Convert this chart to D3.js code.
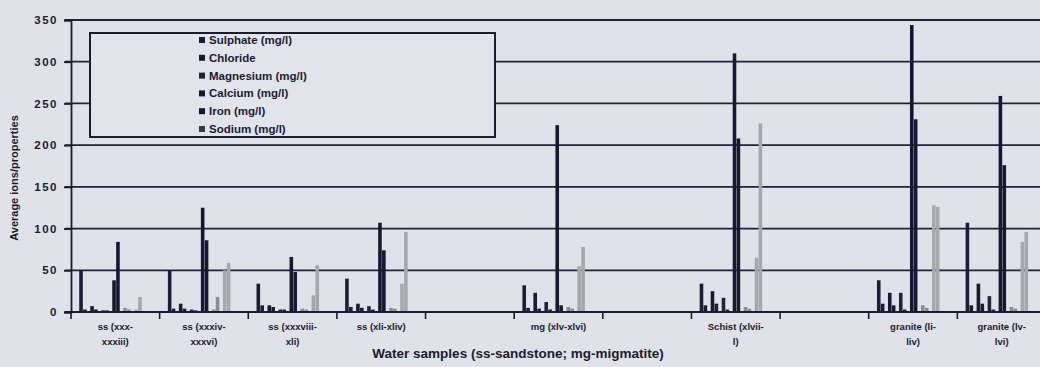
<!DOCTYPE html>
<html>
<head>
<meta charset="utf-8">
<script src="https://cdn.jsdelivr.net/npm/d3@7/dist/d3.min.js"></script>
<style>
  html, body { margin: 0; padding: 0; background: #dfe2e9; }
  svg { display: block; }
  text { font-family: "Liberation Sans", Arial, sans-serif; font-weight: bold; fill: #1c1b30; }
</style>
</head>
<body>
<div id="chart"></div>
<script>
const categories = [
  'ss (xxx-\nxxxiii)', 'ss (xxxiv-\nxxxvi)', 'ss (xxxviii-\nxli)', 'ss (xli-xliv)', '',
  'mg (xlv-xlvi)', '', 'Schist (xlvii-\nl)', '', 'granite (li-\nliv)', 'granite (lv-\nlvi)'
];
const ions = ['Sulphate (mg/l)', 'Chloride', 'Magnesium (mg/l)', 'Calcium (mg/l)', 'Iron (mg/l)', 'Sodium (mg/l)'];
const yTicks = [0, 50, 100, 150, 200, 250, 300, 350];

// two readings per ion in each sample group
const sulphate  = [[50, 3], [50, 4], [34, 8], [40, 6], [0, 0], [32, 5], [0, 0], [34, 8], [0, 0], [38, 10], [107, 8]];
const chloride  = [[7, 3], [10, 4], [8, 6], [10, 5], [0, 0], [23, 4], [0, 0], [25, 10], [0, 0], [23, 8], [34, 10]];
const magnesium = [[2, 2], [3, 2], [3, 3], [7, 3], [0, 0], [12, 3], [0, 0], [17, 3], [0, 0], [23, 3], [19, 3]];
const calcium   = [[38, 84], [125, 86], [66, 48], [107, 74], [0, 0], [224, 8], [0, 0], [310, 208], [0, 0], [344, 231], [259, 176]];
const iron      = [[5, 3], [3, 18], [4, 3], [5, 4], [0, 0], [6, 4], [0, 0], [6, 4], [0, 0], [8, 5], [6, 4]];
const sodium    = [[3, 18], [50, 59], [20, 56], [34, 96], [0, 0], [55, 78], [0, 0], [65, 226], [0, 0], [128, 126], [84, 96]];

const seriesValues = [sulphate, chloride, magnesium, calcium, iron, sodium];
const colors = ['#1f1c38', '#1b1933', '#24223d', '#19172f', '#8b8b95', '#a7a7ad'];

const width = 1040, height = 367;
const margin = { top: 20, right: -6, bottom: 55, left: 71 };

const svg = d3.select('#chart').append('svg')
  .attr('width', width)
  .attr('height', height);

const x0 = d3.scaleBand()
  .domain(d3.range(categories.length))
  .range([margin.left, width - margin.right])
  .padding(0);

const cw = x0.bandwidth();
const x1 = d3.scaleBand()
  .domain(ions)
  .range([cw * 0.073, cw * 0.818])
  .padding(0);

const x2 = d3.scaleBand()
  .domain([0, 1])
  .range([0, x1.bandwidth()])
  .paddingInner(0.08)
  .paddingOuter(0.45);

const y = d3.scaleLinear()
  .domain([0, 350])
  .range([height - margin.bottom, margin.top]);

// grid
svg.append('g')
  .selectAll('line')
  .data(yTicks.slice(1))
  .enter()
  .append('line')
  .attr('x1', margin.left - 6)
  .attr('x2', width)
  .attr('y1', d => y(d))
  .attr('y2', d => y(d))
  .attr('stroke', '#23223a')
  .attr('stroke-width', 1.8);

// bars
const flat = [];
seriesValues.forEach((vals, si) => {
  vals.forEach((pair, ci) => {
    pair.forEach((v, k) => flat.push({ ci, si, k, v }));
  });
});

svg.append('g')
  .selectAll('rect')
  .data(flat.filter(d => d.v > 0))
  .enter()
  .append('rect')
  .attr('x', d => x0(d.ci) + x1(ions[d.si]) + x2(d.k))
  .attr('width', x2.bandwidth())
  .attr('y', d => y(d.v))
  .attr('height', d => y(0) - y(d.v))
  .attr('fill', d => colors[d.si]);

// y axis
const yAxis = svg.append('g')
  .attr('transform', `translate(${margin.left},0)`)
  .call(d3.axisLeft(y).tickValues(yTicks).tickSize(7).tickPadding(6));
yAxis.select('.domain').attr('stroke', '#1c1b30').attr('stroke-width', 1.8);
yAxis.selectAll('.tick line').attr('stroke', '#1c1b30').attr('stroke-width', 1.8);
yAxis.selectAll('.tick text')
  .style('font-size', '11.5px')
  .style('font-weight', 'bold')
  .style('letter-spacing', '1.5px')
  .attr('fill', '#1c1b30');

// x axis
const xAxis = svg.append('g')
  .attr('transform', `translate(0,${y(0)})`);
xAxis.append('line')
  .attr('x1', margin.left - 6)
  .attr('x2', width)
  .attr('stroke', '#1c1b30')
  .attr('stroke-width', 1.8);
xAxis.selectAll('line.tk')
  .data(d3.range(categories.length + 1))
  .enter()
  .append('line')
  .attr('class', 'tk')
  .attr('x1', d => margin.left + d * cw)
  .attr('x2', d => margin.left + d * cw)
  .attr('y1', 0)
  .attr('y2', 7)
  .attr('stroke', '#1c1b30')
  .attr('stroke-width', 1.6);

const labels = svg.append('g')
  .selectAll('text')
  .data(categories)
  .enter()
  .append('text')
  .attr('text-anchor', 'middle')
  .style('font-size', '9.5px')
  .attr('transform', (d, i) => `translate(${x0(i) + cw / 2},${y(0) + 18})`);
labels.selectAll('tspan')
  .data(d => d.split('\n'))
  .enter()
  .append('tspan')
  .attr('x', 0)
  .attr('dy', (d, i) => i === 0 ? 0 : 15)
  .text(d => d);

// axis titles
svg.append('text')
  .attr('x', 518)
  .attr('y', 358)
  .attr('text-anchor', 'middle')
  .style('font-size', '13.5px')
  .text('Water samples (ss-sandstone; mg-migmatite)');

svg.append('text')
  .attr('transform', 'translate(18,178) rotate(-90)')
  .attr('text-anchor', 'middle')
  .style('font-size', '11px')
  .text('Average ions/properties');

// legend
const legend = svg.append('g');
legend.append('rect')
  .attr('x', 90)
  .attr('y', 33)
  .attr('width', 405)
  .attr('height', 104)
  .attr('fill', '#e1e4eb')
  .attr('stroke', '#1c1b30')
  .attr('stroke-width', 2);

const items = legend.selectAll('g.item')
  .data(ions)
  .enter()
  .append('g')
  .attr('class', 'item')
  .attr('transform', (d, i) => `translate(199,${40 + i * 17.8})`);
items.append('rect')
  .attr('x', 0)
  .attr('y', -3)
  .attr('width', 6)
  .attr('height', 6)
  .attr('fill', (d, i) => i === 5 ? '#3a3946' : colors[Math.min(i, 3)]);
items.append('text')
  .attr('x', 10)
  .attr('y', 4)
  .style('font-size', '11.5px')
  .text(d => d);
</script>
</body>
</html>
